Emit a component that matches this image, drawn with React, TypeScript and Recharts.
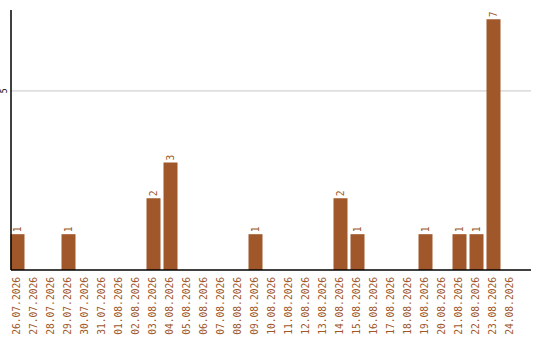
import { BarChart, Bar, XAxis, YAxis, ReferenceLine, LabelList } from 'recharts';

// Daily counts, 26.07 – 24.08
const days = [
  '26.07.2026', '27.07.2026', '28.07.2026', '29.07.2026', '30.07.2026', '31.07.2026',
  '01.08.2026', '02.08.2026', '03.08.2026', '04.08.2026', '05.08.2026', '06.08.2026',
  '07.08.2026', '08.08.2026', '09.08.2026', '10.08.2026', '11.08.2026', '12.08.2026',
  '13.08.2026', '14.08.2026', '15.08.2026', '16.08.2026', '17.08.2026', '18.08.2026',
  '19.08.2026', '20.08.2026', '21.08.2026', '22.08.2026', '23.08.2026', '24.08.2026',
];
const counts = [1, 0, 0, 1, 0, 0, 0, 0, 2, 3, 0, 0, 0, 0, 1, 0, 0, 0, 0, 2, 1, 0, 0, 0, 1, 0, 1, 1, 7, 0];
const yTicks = [5];

const data = days.map((day, i) => ({ day, count: counts[i] }));

const BROWN = '#a0582a';
const FONT = '"DejaVu Sans Mono", monospace';

const DateTick = (props: any) => {
  const { x, payload } = props;
  const ty = 277;
  return (
    <text
      x={x}
      y={ty}
      dy="0.35em"
      transform={`rotate(-90, ${x}, ${ty})`}
      textAnchor="end"
      fill={BROWN}
      fontSize={9.6}
      fontFamily={FONT}
    >
      {payload.value}
    </text>
  );
};

const CountTick = (props: any) => {
  const { y, payload } = props;
  return (
    <text
      x={4}
      y={y}
      dy="0.35em"
      transform={`rotate(-90, 4, ${y})`}
      textAnchor="middle"
      fill="#000"
      fontSize={8}
      fontFamily={FONT}
    >
      {payload.value}
    </text>
  );
};

const ValueLabel = (props: any) => {
  const { x, y, width, value } = props;
  if (!value) return null;
  const cx = x + width / 2;
  const ty = y - 2;
  return (
    <text
      x={cx}
      y={ty}
      dy="0.35em"
      transform={`rotate(-90, ${cx}, ${ty})`}
      textAnchor="start"
      fill={BROWN}
      fontSize={9.6}
      fontFamily={FONT}
    >
      {value}
    </text>
  );
};

export default function App() {
  return (
    <div style={{ position: 'absolute', left: 0, top: 0, background: '#fff' }}>
      <BarChart
        width={540}
        height={340}
        data={data}
        margin={{ top: 10, right: 9, bottom: 0, left: 0 }}
        barSize={14}
      >
        {/* grid line at y = 5, kept beneath the bars */}
        {yTicks.map((t) => (
          <ReferenceLine key={t} y={t} stroke="#c8c8c8" {...({ zIndex: -100 } as any)} />
        ))}
        <XAxis
          dataKey="day"
          interval={0}
          height={70}
          padding={{ left: -2.5, right: 12.5 }}
          tickLine={false}
          axisLine={{ stroke: '#000', strokeWidth: 1.5 }}
          tick={<DateTick />}
        />
        <YAxis
          width={11}
          domain={[0, 7.26]}
          ticks={yTicks}
          tickLine={false}
          axisLine={{ stroke: '#000', strokeWidth: 1.5 }}
          tick={<CountTick />}
        />
        <Bar dataKey="count" fill={BROWN} isAnimationActive={false}>
          <LabelList dataKey="count" content={<ValueLabel />} />
        </Bar>
      </BarChart>
    </div>
  );
}
